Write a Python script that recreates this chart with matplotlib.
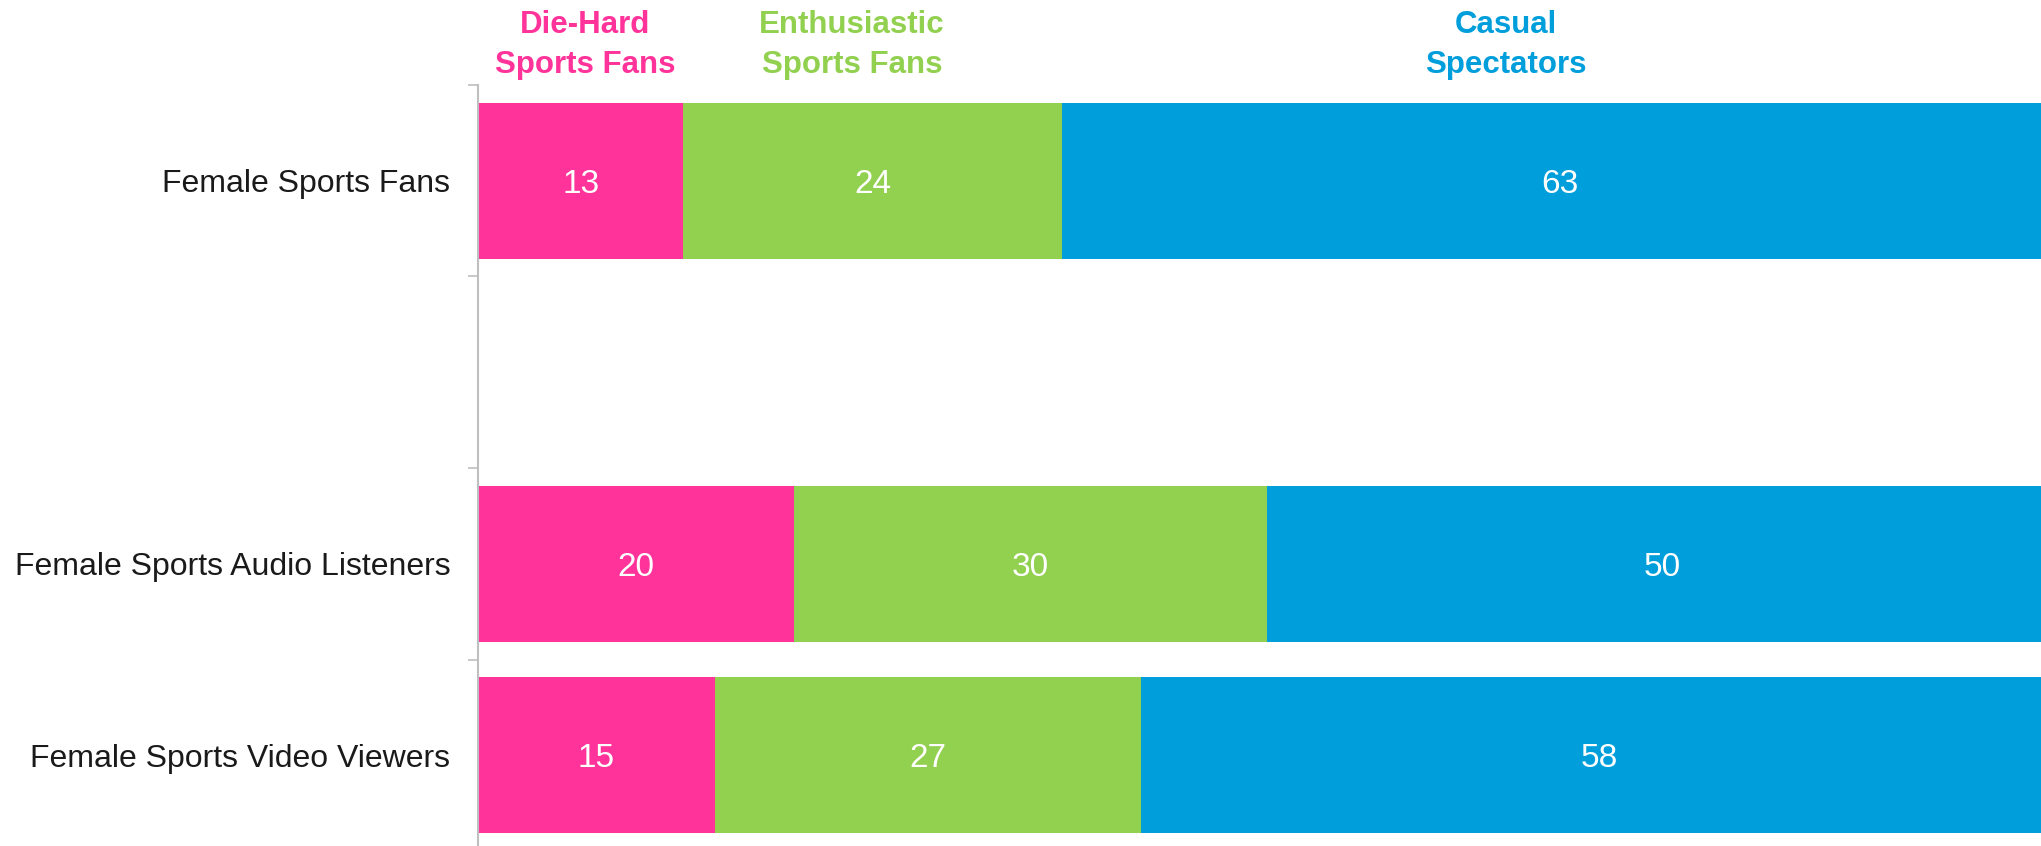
import numpy as np
import matplotlib.pyplot as plt

# Segment shares (%) per audience group; the empty string keeps a blank row
groups = ["Female Sports Fans", "", "Female Sports Audio Listeners", "Female Sports Video Viewers"]
die_hard = [13, np.nan, 20, 15]
enthusiastic = [24, np.nan, 30, 27]
casual = [63, np.nan, 50, 58]

segments = ["Die-Hard\nSports Fans", "Enthusiastic\nSports Fans", "Casual\nSpectators"]
colors = ["#FF3399", "#92D050", "#009EDB"]
header_x = [6.8, 23.7, 65.1]

plt.rcParams['font.family'] = ['Liberation Sans', 'DejaVu Sans']

fig = plt.figure(figsize=(20.41, 8.46), dpi=100)
ax = fig.add_axes([478 / 2041, -5 / 846, 1 - 478 / 2041, 766 / 846])

y = np.arange(len(groups))
left = np.zeros(len(groups))
for vals, col in zip([die_hard, enthusiastic, casual], colors):
    vals = np.array(vals, dtype=float)
    ax.barh(y, vals, left=left, height=0.815, color=col, edgecolor='none')
    for yi, (l, v) in enumerate(zip(left, vals)):
        if not np.isnan(v):
            ax.text(l + v / 2, yi, f"{v:.0f}", ha='center', va='center_baseline',
                    color='white', fontsize=24)
    left = left + np.nan_to_num(vals)

# the last segment runs slightly past the right edge
ax.set_xlim(0, 99)
ax.set_ylim(3.5, -0.5)

# category labels on major ticks, slot dividers as minor ticks
ax.set_yticks(y)
ax.set_yticklabels(groups, fontsize=23, color='#1a1a1a')
ax.set_yticks(np.arange(-0.5, 3.0, 1.0), minor=True)
ax.tick_params(axis='y', which='major', length=0, pad=20)
ax.tick_params(axis='y', which='minor', length=7, width=1.2, color='#BFBFBF')
ax.set_xticks([])

for s in ['top', 'right', 'bottom']:
    ax.spines[s].set_visible(False)
ax.spines['left'].set_color('#BFBFBF')
ax.spines['left'].set_linewidth(1.5)

# segment headers in the top margin
for name, col, hx in zip(segments, colors, header_x):
    ax.text(hx, -0.5 - 40 / 191.5, name, ha='center', va='center',
            color=col, fontsize=22.5, fontweight='bold', linespacing=1.45,
            clip_on=False)

fig.savefig("out.png", dpi=100)
